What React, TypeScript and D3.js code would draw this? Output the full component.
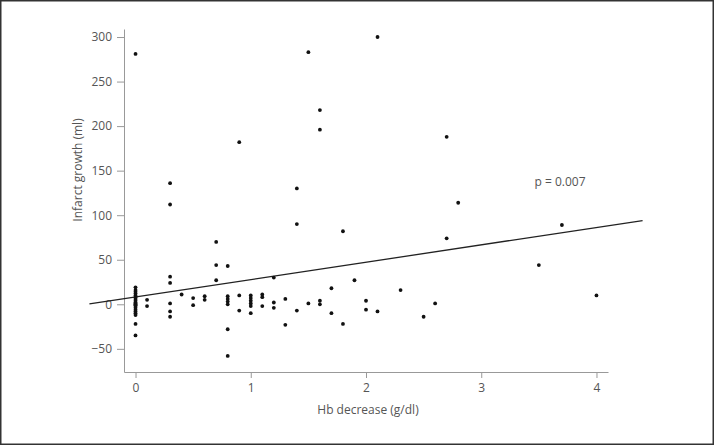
import React, { useRef, useEffect } from "react";
import * as d3 from "d3";

// Hb decrease (g/dl) and infarct growth (ml), one pair per patient
const hbDecrease = [
  0, 0, 0, 0, 0, 0, 0, 0, 0, 0, 0, 0, 0, 0, 0, 0, 0, 0, 0, 0, 0,
  0.1, 0.1,
  0.3, 0.3, 0.3, 0.3, 0.3, 0.3, 0.3,
  0.4,
  0.5, 0.5,
  0.6, 0.6,
  0.7, 0.7, 0.7,
  0.8, 0.8, 0.8, 0.8, 0.8, 0.8, 0.8,
  0.9, 0.9, 0.9,
  1.0, 1.0, 1.0, 1.0, 1.0, 1.0,
  1.1, 1.1, 1.1,
  1.2, 1.2, 1.2,
  1.3, 1.3,
  1.4, 1.4, 1.4,
  1.5, 1.5,
  1.6, 1.6, 1.6, 1.6,
  1.7, 1.7,
  1.8, 1.8,
  1.9,
  2.0, 2.0,
  2.1, 2.1,
  2.3, 2.5, 2.6,
  2.7, 2.7,
  2.8, 3.5, 3.7, 4.0,
];

const infarctGrowth = [
  281, 19, 16, 14, 12, 10, 8, 6, 4, 2, 1, 0, -1, -2, -4, -6, -8, -10, -12, -22, -35,
  5, -2,
  136, 112, 31, 24, 1, -8, -14,
  11,
  7, -1,
  9, 5,
  70, 44, 27,
  43, 9, 6, 3, 0, -28, -58,
  182, 10, -7,
  10, 7, 4, 1, -2, -10,
  11, 8, -2,
  30, 2, -4,
  6, -23,
  130, 90, -7,
  283, 1,
  218, 196, 4, 0,
  18, -10,
  82, -22,
  27,
  4, -6,
  300, -8,
  16, -14, 1,
  188, 74,
  114, 44, 89, 10,
];

const xTicks = [0, 1, 2, 3, 4];
const yTicks = [-50, 0, 50, 100, 150, 200, 250, 300];
const fitIntercept = 8.2;
const fitSlope = 19.5;
const fitRange = [-0.4, 4.4];
const pLabel = "p = 0.007";

const W = 714;
const H = 445;
const FONT = "'Open Sans', 'Noto Sans', sans-serif";

export default function App() {
  const svgRef = useRef<SVGSVGElement>(null);

  useEffect(() => {
    const svg = d3.select(svgRef.current);
    svg.selectAll("*").remove();

    const x = d3.scaleLinear().domain([-0.1, 4.1]).range([124, 608]);
    const y = d3.scaleLinear().domain([-76, 309]).range([372, 29]);
    const axisColor = "#999";
    const textColor = "#555";

    // frame
    svg.append("rect")
      .attr("x", 0.75).attr("y", 0.75)
      .attr("width", W - 1.5).attr("height", H - 1.5)
      .attr("fill", "#fff").attr("stroke", "#333").attr("stroke-width", 1.5);

    // x axis
    const gx = svg.append("g").attr("transform", `translate(0,${y.range()[0]})`)
      .call(d3.axisBottom(x).tickValues(xTicks).tickSize(6).tickSizeOuter(0).tickPadding(5)
        .tickFormat(d3.format("d")));
    gx.select(".domain").attr("stroke", axisColor);
    gx.selectAll(".tick line").attr("stroke", axisColor);
    gx.selectAll(".tick text").attr("fill", textColor).attr("font-size", 12).attr("font-family", FONT);

    // y axis
    const gy = svg.append("g").attr("transform", `translate(${x.range()[0]},0)`)
      .call(d3.axisLeft(y).tickValues(yTicks).tickSize(7).tickSizeOuter(0).tickPadding(5)
        .tickFormat((d) => d3.format("d")(d as number).replace("-", "\u2212")));
    gy.select(".domain").attr("stroke", axisColor);
    gy.selectAll(".tick line").attr("stroke", axisColor);
    gy.selectAll(".tick text").attr("fill", textColor).attr("font-size", 12).attr("font-family", FONT);

    // axis titles
    svg.append("text")
      .attr("x", 368).attr("y", 414)
      .attr("text-anchor", "middle")
      .attr("fill", textColor).attr("font-size", 12).attr("font-family", FONT)
      .text("Hb decrease (g/dl)");

    svg.append("text")
      .attr("transform", `translate(82,170) rotate(-90)`)
      .attr("text-anchor", "middle")
      .attr("fill", textColor).attr("font-size", 12).attr("font-family", FONT)
      .text("Infarct growth (ml)");

    // regression line
    const line = d3.line<number>().x((d) => x(d)).y((d) => y(fitIntercept + fitSlope * d));
    svg.append("path")
      .attr("d", line(fitRange))
      .attr("fill", "none").attr("stroke", "#222").attr("stroke-width", 1.3);

    // points
    svg.append("g").selectAll("circle")
      .data(hbDecrease.map((h, i) => [h, infarctGrowth[i]]))
      .enter().append("circle")
      .attr("cx", (d) => x(d[0]))
      .attr("cy", (d) => y(d[1]))
      .attr("r", 1.9)
      .attr("fill", "#111");

    svg.append("text")
      .attr("x", 560).attr("y", 186)
      .attr("text-anchor", "middle")
      .attr("fill", textColor).attr("font-size", 12).attr("font-family", FONT)
      .text(pLabel);
  }, []);

  return (
    <svg
      ref={svgRef}
      width={W}
      height={H}
      style={{ position: "absolute", left: 0, top: 0, display: "block" }}
    />
  );
}
